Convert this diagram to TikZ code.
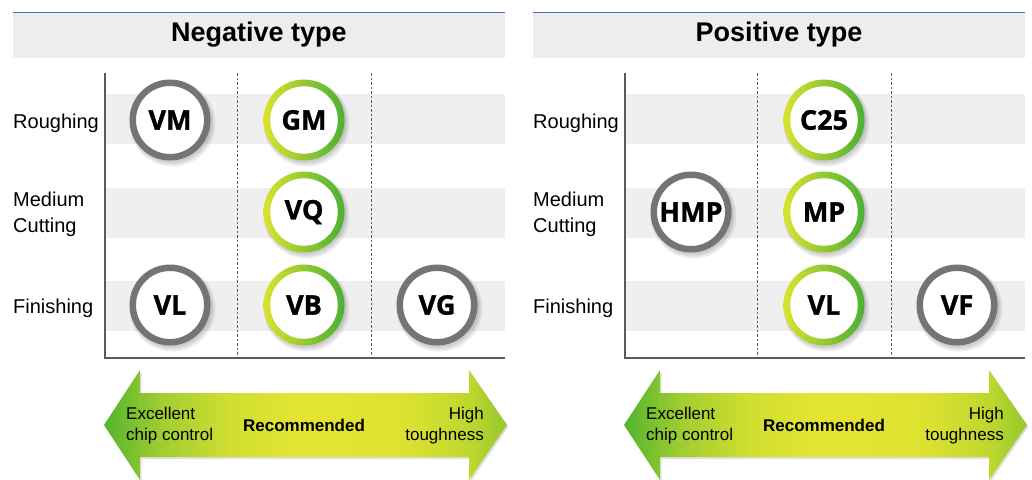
\documentclass[tikz,border=0pt]{standalone}
\usepackage{fontspec}
\setmainfont{Liberation Sans}
\newfontfamily\circfont{Open Sans}[BoldFeatures={FakeBold=1.2}]
\definecolor{hdr}{HTML}{EDEDED}
\definecolor{band}{HTML}{EFEFEF}
\definecolor{blueline}{HTML}{4A72B8}
\definecolor{ringgray}{HTML}{747474}
\definecolor{axisgray}{HTML}{5A5A5A}
\definecolor{agrn}{RGB}{84,180,48}
\definecolor{ag1}{RGB}{160,205,48}
\definecolor{ag2}{RGB}{208,222,48}
\definecolor{aylw}{RGB}{228,229,50}
\definecolor{ag3}{RGB}{222,226,48}
\definecolor{ag4}{RGB}{190,215,46}
\definecolor{ag5}{RGB}{148,200,46}
\definecolor{rgrn}{RGB}{74,176,52}
\definecolor{rylw}{RGB}{220,226,46}
\pgfdeclarehorizontalshading{arrowshade}{100bp}{color(0bp)=(agrn); color(25bp)=(agrn); color(32bp)=(ag1); color(40.6bp)=(ag2); color(49.3bp)=(aylw); color(61.7bp)=(ag3); color(70.4bp)=(ag4); color(75bp)=(ag5); color(100bp)=(ag5)}
\tikzset{
  titletext/.style={inner sep=0, font=\bfseries\fontsize{27}{27}\selectfont},
  rowlabel/.style={inner sep=0, align=left, font=\fontsize{20}{26}\selectfont},
  arrowtxt/.style={inner sep=0, font=\fontsize{17}{21}\selectfont},
  circtext/.style={circle, inner sep=0, font=\circfont\bfseries\fontsize{27}{27}\selectfont},
  grayring/.style={circtext, fill=white, draw=ringgray, line width=6.5pt, minimum size=74.5pt},
  whitecore/.style={circtext, fill=white, minimum size=67.5pt},
  softshadow/.style={fill=black, opacity=0.07},
  dashline/.style={draw=axisgray, dashed, dash pattern=on 2.5pt off 2pt, line width=0.7pt},
  axisline/.style={draw=axisgray, line width=1.2pt},
}
\newcommand\shadowat[2]{%
  \fill[softshadow] (#1+2.5,#2+3.5) circle (43pt);
  \fill[softshadow] (#1+2,#2+3) circle (41.5pt);
  \fill[softshadow] (#1+1.5,#2+2) circle (40.5pt);}
\newcommand\gcirc[4]{% name x y text
  \shadowat{#2}{#3}
  \shade[left color=rylw, right color=rgrn] (#2,#3) circle (40.5pt);
  \node[whitecore] (#1) at (#2,#3) {#4};}
\newcommand\ycirc[4]{% name x y text
  \shadowat{#2}{#3}
  \node[grayring] (#1) at (#2,#3) {#4};}
\newcommand\panel[2]{% prefix, title
  \fill[hdr] (13,12) rectangle (505,58);
  \draw[blueline, line width=1pt] (13,12) -- (505,12);
  \node[titletext] (#1title) at (259,35) {#2};
  \fill[band] (105,94) rectangle (505,144);
  \fill[band] (105,188) rectangle (505,238);
  \fill[band] (105,281) rectangle (505,331);
  \coordinate (#1d1t) at (237,73); \coordinate (#1d1b) at (237,358);
  \coordinate (#1d2t) at (371,73); \coordinate (#1d2b) at (371,358);
  \draw[dashline] (#1d1t) -- (#1d1b);
  \draw[dashline] (#1d2t) -- (#1d2b);
  \coordinate (#1top) at (105,73); \coordinate (#1org) at (105,358); \coordinate (#1end) at (505,358);
  \draw[axisline] (#1top) -- (#1org) -- (#1end);
  \node[rowlabel, anchor=base west] (#1r1) at (13,128) {Roughing};
  \node[rowlabel, anchor=west] (#1r2) at (13,214) {Medium\\Cutting};
  \node[rowlabel, anchor=base west] (#1r3) at (13,313) {Finishing};
  \fill[black, opacity=0.12] (105.5,427) -- (141.5,372) -- (141.5,395) -- (470.5,395) -- (470.5,372) -- (508.5,427)
     -- (470.5,482) -- (470.5,459) -- (141.5,459) -- (141.5,482) -- cycle;
  \shade[shading=arrowshade]
     (104,425) -- (140,370) -- (140,393) -- (469,393) -- (469,370) -- (507,425)
     -- (469,480) -- (469,457) -- (140,457) -- (140,480) -- cycle;
  \node[arrowtxt, anchor=west, align=left] (#1ex) at (126,426) {Excellent\\chip control};
  \node[arrowtxt, font=\bfseries\fontsize{17}{21}\selectfont] (#1rec) at (304,425.5) {Recommended};
  \node[arrowtxt, anchor=east, align=right] (#1hi) at (484,426) {High\\toughness};
}
\begin{document}
\begin{tikzpicture}[x=1pt,y=-1pt]
\useasboundingbox (0,0) rectangle (1032,479);
\begin{scope}
  \panel{n}{Negative type}
  \ycirc{vm}{170}{120}{VM}
  \gcirc{gm}{304}{120}{GM}
  \gcirc{vq}{304}{212}{VQ}
  \ycirc{vl}{170}{305}{VL}
  \gcirc{vb}{304}{305}{VB}
  \ycirc{vg}{437}{305}{VG}
\end{scope}
\begin{scope}[xshift=520pt]
  \panel{p}{Positive type}
  \gcirc{c25}{304}{120}{C25}
  \ycirc{hmp}{171}{212}{HMP}
  \gcirc{mp}{304}{212}{MP}
  \gcirc{pvl}{304}{305}{VL}
  \ycirc{vf}{437}{305}{VF}
\end{scope}
\end{tikzpicture}
\end{document}
